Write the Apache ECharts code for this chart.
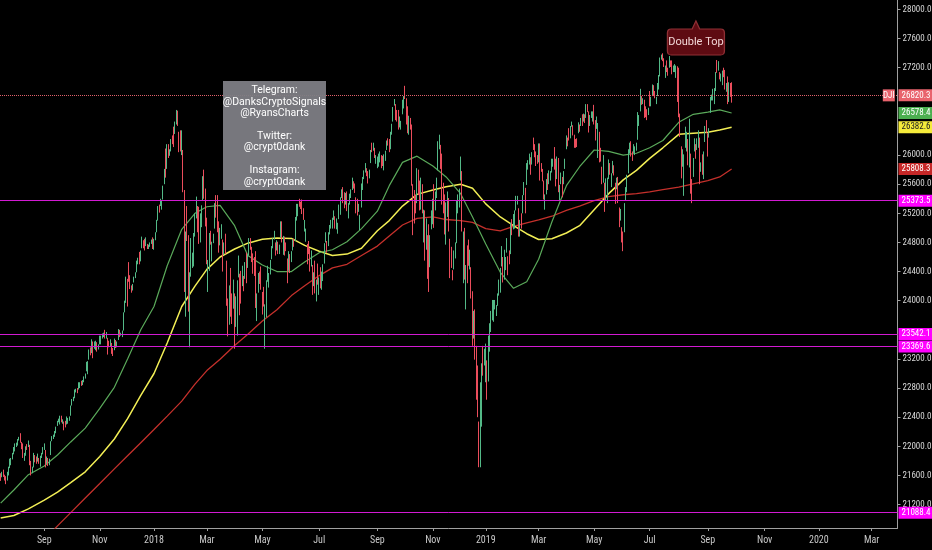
<!DOCTYPE html>
<html><head><meta charset="utf-8">
<script src="https://cdn.jsdelivr.net/npm/echarts/dist/echarts.min.js"></script>
<style>html,body{margin:0;padding:0;background:#000;}#c{width:932px;height:550px;}</style>
</head><body><div id="c"></div>
<script>
// ---- data ----
const startDate = '2017-07-18';
const categoryCount = 679;
const holidays = ['2017-09-04','2017-11-23','2017-12-25','2018-01-01','2018-01-15','2018-02-19','2018-03-30','2018-05-28','2018-07-04','2018-09-03','2018-11-22','2018-12-05','2018-12-25','2019-01-01','2019-01-21','2019-02-18','2019-04-19','2019-05-27','2019-07-04','2019-09-02','2019-11-28','2019-12-25','2020-01-01','2020-01-20','2020-02-17'];
const monthNames = ['Jan','Feb','Mar','Apr','May','Jun','Jul','Aug','Sep','Oct','Nov','Dec'];
// [open, close, low, high]
const candles2017 = [
[21610,21574,21525,21630],[21590,21641,21575,21650],[21650,21611,21580,21680],[21590,21580,21530,21610],[21580,21513,21480,21590],[21540,21613,21530,21650],[21620,21711,21600,21720],[21720,21797,21700,21830],[21790,21830,21740,21840],[21840,21891,21820,21910],
[21900,21963,21890,21990],[21970,22016,21930,22040],[22020,22026,21990,22050],[22030,22092,22010,22100],[22090,22118,22080,22130],[22110,22085,22050,22180],[22060,22048,21960,22060],[22040,21844,21840,22040],[21850,21858,21800,21910],[21880,21993,21870,22000],[22000,21999,21950,22030],[22010,22024,21990,22080],[22010,21750,21740,22020],[21760,21674,21600,21800],[21680,21703,21630,21720],[21720,21899,21710,21910],[21860,21812,21780,21880],[21820,21783,21760,21860],[21800,21814,21790,21900],[21820,21808,21760,21840],[21760,21865,21720,21870],[21860,21892,21840,21910],[21900,21948,21890,21990],
[21960,21988,21950,22040],[21940,21753,21710,21950],[21780,21807,21760,21860],[21820,21784,21730,21840],[21780,21798,21740,21830],[21880,22057,21880,22070],[22080,22119,22070,22140],[22110,22158,22100,22160],[22140,22203,22130,22210],[22200,22268,22180,22270],[22290,22331,22280,22350],[22340,22370,22330,22380],[22370,22412,22300,22420],[22400,22359,22330,22420],[22340,22349,22310,22370],[22330,22296,22220,22340],[22310,22284,22260,22350],[22320,22341,22300,22410],[22330,22381,22310,22390],[22380,22405,22350,22410],
[22430,22557,22420,22560],[22570,22641,22560,22650],[22640,22661,22620,22680],[22680,22775,22660,22780],[22760,22774,22740,22790],[22770,22761,22730,22800],[22790,22831,22780,22880],[22830,22873,22800,22880],[22880,22841,22830,22900],[22870,22871,22840,22910],[22900,22957,22880,22960],[22950,22997,22930,23000],[23030,23158,23030,23160],[23110,23163,22990,23170],[23200,23329,23190,23330],[23340,23274,23250,23360],[23290,23441,23280,23470],[23430,23329,23210,23440],[23350,23400,23340,23440],[23420,23434,23320,23450],[23420,23349,23300,23430],[23370,23377,23330,23400],
[23420,23436,23400,23520],[23430,23517,23400,23520],[23520,23539,23480,23550],[23540,23549,23500,23560],[23560,23557,23480,23600],[23540,23563,23480,23570],[23480,23462,23260,23490],[23440,23422,23360,23450],[23390,23440,23370,23470],[23420,23409,23270,23420],[23340,23271,23240,23350],[23330,23458,23320,23480],[23450,23358,23350,23460],[23370,23430,23360,23440],[23470,23591,23460,23610],[23590,23526,23500,23600],[23540,23558,23520,23560],[23560,23580,23500,23590],[23600,23836,23590,23840],[23850,23940,23840,24000],[23980,24272,23970,24330],
[24250,24231,23920,24300],[24420,24290,24260,24530],[24300,24180,24160,24350],[24170,24140,24110,24210],[24150,24212,24140,24230],[24260,24329,24250,24330],[24330,24387,24310,24390],[24400,24504,24390,24550],[24530,24585,24500,24590],[24600,24509,24500,24670],[24560,24652,24540,24690],[24730,24792,24720,24880],[24820,24754,24720,24830],[24800,24726,24690,24850],[24760,24782,24750,24870],[24770,24754,24710,24780],[24730,24746,24710,24770],[24760,24774,24740,24800],[24800,24838,24780,24840],[24850,24719,24710,24870]
];
const candles2018 = [
[24810,24824,24700,24850],[24850,24922,24830,24940],[24960,25075,24940,25110],[25110,25295,25100,25300],[25310,25283,25210,25320],[25310,25386,25300,25400],[25320,25369,25250,25380],[25400,25574,25390,25580],[25610,25803,25600,25810],[25900,25792,25690,26090],[25840,26116,25810,26150],[26140,26017,25960,26150],[26040,26071,25990,26080],[26060,26214,26050,26220],[26240,26210,26150,26270],[26260,26252,26110,26390],[26290,26392,26290,26460],[26450,26617,26420,26620],[26590,26439,26400,26610],[26310,26076,26040,26320],[26200,26149,26050,26340],
[26080,26186,26000,26340],[26060,25521,25490,26070],[25340,24346,24120,25520],[24090,24913,23780,24950],[24900,24893,24820,25300],[24900,23860,23850,24900],[23990,24191,23360,24390],[24340,24601,24330,24860],[24540,24640,24450,24660],[24540,24893,24470,24930],[24990,25200,24880,25200],[25170,25219,25130,25430],[25180,24965,24940,25300],[25000,24798,24780,25290],[24830,24963,24800,25200],[25030,25310,25010,25310],[25370,25709,25370,25710],[25710,25410,25400,25800],[25480,25029,25020,25540],
[25030,24608,24500,25140],[24480,24538,24120,24560],[24460,24874,24410,24930],[24920,24884,24770,24960],[24620,24801,24540,24810],[24820,24895,24790,24920],[25000,25336,24990,25340],[25380,25179,25140,25450],[25250,25008,24940,25450],[25060,24758,24660,25090],[24800,24873,24760,25000],[24880,24946,24850,25050],[24840,24610,24400,24840],[24640,24727,24630,24800],[24700,24683,24640,24920],[24550,23958,23930,24550],[23920,23533,23510,24030],[23770,24202,23670,24210],[24280,23857,23780,24450],[23860,23849,23680,24100],[23900,24103,23890,24290],
[24080,23644,23340,24100],[23710,24033,23640,24060],[23720,24264,23520,24280],[24330,24505,24320,24620],[24330,23933,23800,24370],[24000,23979,23960,24410],[24200,24408,24200,24480],[24270,24190,24130,24340],[24320,24483,24300,24530],[24600,24360,24240,24660],[24460,24573,24450,24630],[24680,24786,24620,24860],[24800,24748,24700,24860],[24700,24665,24530,24740],[24620,24463,24370,24650],[24490,24448,24340,24600],[24510,24024,23900,24680],[24010,24083,23720,24100],[24130,24322,24110,24380],[24350,24311,24230,24400],[24370,24163,24150,24470],
[24120,24099,23810,24120],[24100,23925,23920,24190],[23840,23930,23340,23950],[23860,24263,23770,24280],[24320,24357,24260,24480],[24330,24361,24180,24380],[24400,24543,24360,24560],[24580,24740,24570,24750],[24750,24831,24720,24860],[24880,24899,24840,24960],[24800,24706,24620,24800],[24700,24769,24690,24830],[24740,24714,24640,24810],[24700,24715,24640,24770],[24880,25013,24870,25090],[25050,24834,24800,25090],[24770,24887,24630,24890],[24860,24811,24620,24880],[24790,24753,24680,24800],[24570,24362,24240,24580],[24420,24668,24410,24680],[24600,24416,24380,24640],
[24540,24635,24530,24680],[24700,24814,24690,24840],[24830,24800,24740,24850],[24850,25146,24820,25150],[25160,25241,25100,25330],[25200,25317,25160,25330],[25330,25322,25290,25400],[25320,25320,25260,25360],[25330,25201,25190,25390],[25230,25175,25110,25270],[25080,25090,24950,25110],[24940,24987,24810,24990],[24760,24700,24500,24780],[24740,24658,24640,24820],[24660,24461,24400,24720],[24510,24581,24470,24690],[24480,24253,24080,24490],[24280,24284,24200,24390],[24320,24117,24100,24550],[24080,24216,23990,24290],[24290,24271,24220,24510],
[24160,24307,24080,24320],[24350,24175,24170,24460],[24230,24357,24150,24400],[24340,24456,24270,24500],[24520,24776,24510,24790],[24810,24920,24800,24940],[24780,24700,24660,24820],[24760,24925,24750,24940],[24930,25019,24910,25040],[25030,25064,24990,25110],[25010,25120,24990,25140],[25120,25199,25110,25240],[25160,25065,24990,25160],[25040,25058,24980,25130],[25030,25044,24920,25070],[25130,25241,25120,25320],[25240,25415,25180,25420],[25430,25527,25410,25530],[25550,25451,25340,25560],[25440,25307,25270,25490],[25360,25415,25320,25480],
[25400,25333,25230,25500],[25280,25327,25130,25340],[25340,25463,25320,25470],[25440,25502,25410,25530],[25530,25629,25520,25690],[25620,25583,25540,25640],[25570,25509,25480,25610],[25410,25313,25200,25420],[25320,25188,25170,25400],[25230,25300,25220,25330],[25160,25162,24970,25180],[25290,25559,25280,25610],[25540,25669,25520,25700],[25680,25759,25670,25790],[25780,25822,25760,25890],[25800,25733,25710,25820],[25730,25657,25610,25780],[25690,25790,25680,25800],[25900,26050,25890,26070],[26090,26065,26040,26170],[26080,26124,26060,26170],[26080,25986,25960,26100],[25940,25965,25880,26000],
[25920,25952,25820,25980],[25940,25975,25840,26020],[25990,25996,25900,26050],[25930,25917,25820,26000],[25960,25857,25850,25990],[25820,25971,25790,26010],[25960,26000,25920,26060],[26080,26145,26070,26200],[26170,26154,26130,26230],[26170,26062,26040,26220],[26080,26246,26080,26320],[26290,26406,26280,26430],[26470,26657,26460,26660],[26700,26743,26680,26770],[26690,26562,26480,26700],[26570,26492,26460,26620],[26510,26385,26350,26620],[26420,26440,26380,26530],[26420,26458,26350,26470],
[26570,26651,26560,26760],[26650,26774,26640,26810],[26830,26828,26770,26951],[26760,26627,26420,26780],[26630,26447,26300,26670],[26420,26487,26280,26540],[26460,26431,26350,26510],[26410,25599,25580,26420],[25550,25053,24900,25600],[25400,25340,25060,25520],[25310,25250,25200,25450],[25350,25798,25340,25820],[25750,25706,25450,25800],[25640,25380,25240,25650],[25420,25444,25250,25690],[25450,25317,25200,25600],[25070,25191,24800,25250],[25170,24583,24550,25240],[24770,24985,24700,25130],[24820,24689,24300,24900],[24820,24443,24120,25050],[24480,24875,24460,24900],[25030,25116,24980,25240],
[25100,25380,25050,25400],[25520,25271,25000,25600],[25260,25462,25240,25500],[25440,25635,25410,25690],[25810,26181,25790,26190],[26140,26191,26080,26280],[26130,25989,25810,26140],[25960,25387,25320,26020],[25410,25286,25200,25620],[25390,25081,24910,25460],[25000,25289,24770,25350],[25200,25413,25150,25500],[25390,25018,24950,25410],[24840,24466,24310,24850],[24550,24465,24450,24740],[24390,24286,24280,24420],[24440,24640,24430,24690],[24600,24749,24580,24800],[24810,25366,24790,25370],[25310,25339,25200,25460],[25340,25538,25280,25540],
[25780,25826,25650,25980],[25780,25027,24950,25780],[24750,24947,24240,24950],[24900,24389,24290,25000],[24350,24423,23880,24490],[24560,24370,24240,24760],[24530,24527,24480,24840],[24560,24597,24430,24700],[24460,24101,24030,24460],[24040,23592,23380,24130],[23660,23676,23480,23860],[23680,23324,23190,23880],[23220,22859,22640,23380],[22880,22445,22400,23110],[22320,21792,21713,22340],[21860,22878,21712,22879],[22630,23139,22270,23140],[23210,23062,22970,23380],[23150,23327,23110,23340]
];
const candles2019 = [
[23060,23346,22880,23410],[23180,22686,22640,23180],[22890,23433,22890,23520],[23470,23531,23300,23690],[23680,23787,23570,23860],[23850,23879,23730,24010],[23790,24001,23710,24010],[23940,23996,23880,24010],[23870,23910,23790,23940],[23950,24066,23930,24100],[24090,24207,24070,24290],[24140,24370,24110,24450],[24480,24706,24470,24750],[24590,24404,24250,24600],[24510,24575,24290,24700],[24550,24553,24420,24600],[24700,24737,24660,24860],[24580,24528,24350,24610],[24590,24580,24500,24690],[24650,25014,24640,25070],[25010,24999,24900,25120],
[25020,25064,24980,25190],[25060,25239,24990,25240],[25250,25411,25240,25440],[25370,25390,25320,25440],[25270,25169,24880,25270],[25050,25106,24880,25110],[25140,25053,24990,25200],[25210,25425,25200,25450],[25470,25543,25450,25630],[25490,25439,25200,25550],[25600,25883,25590,25890],[25840,25891,25800,25930],[25890,25954,25870,26020],[25940,25850,25730,25970],[25880,26031,25870,26040],[26130,26091,26070,26240],[26080,26057,25970,26150],[26000,25985,25850,26050],[25970,25916,25880,26000],
[26020,26026,25900,26160],[26120,25819,25650,26160],[25830,25806,25770,25890],[25800,25673,25640,25810],[25640,25473,25390,25650],[25320,25450,25250,25460],[25480,25650,25460,25670],[25680,25555,25520,25750],[25610,25703,25600,25790],[25690,25710,25650,25780],[25770,25849,25760,25950],[25870,25914,25840,25950],[25950,25887,25800,26110],[25910,25746,25570,25950],[25710,25963,25670,25980],[25920,25502,25490,25960],[25460,25516,25380,25590],[25620,25657,25600,25760],[25650,25626,25420,25700],[25650,25717,25600,25780],[25820,25929,25810,25950],
[26080,26258,26080,26270],[26230,26179,26120,26240],[26250,26218,26200,26370],[26240,26385,26230,26400],[26420,26425,26390,26460],[26400,26341,26270,26410],[26270,26150,26100,26280],[26170,26157,26100,26220],[26200,26143,26110,26230],[26310,26412,26300,26450],[26400,26385,26320,26420],[26420,26453,26400,26510],[26510,26450,26400,26560],[26480,26559,26460,26570],[26550,26511,26440,26560],[26520,26656,26510,26700],[26660,26597,26590,26700],[26590,26462,26310,26600],[26460,26543,26400,26550],[26550,26554,26510,26600],[26530,26593,26460,26600],
[26640,26430,26420,26690],[26420,26308,26200,26480],[26370,26505,26360,26530],[26050,26439,25960,26440],[26300,25965,25900,26320],[25970,25968,25910,26100],[25830,25828,25600,25840],[25800,25942,25620,26000],[25600,25324,25220,25620],[25380,25532,25370,25680],[25450,25648,25340,25690],[25680,25862,25670,25940],[25780,25764,25730,25890],[25670,25680,25560,25750],[25760,25877,25750,25920],[25850,25776,25720,25860],[25610,25490,25330,25620],[25560,25586,25530,25690],[25600,25348,25340,25700],[25250,25126,25010,25280],[25160,25170,25100,25260],[24980,24815,24800,25010],
[24830,24820,24680,24950],[24950,25333,24940,25340],[25420,25540,25370,25560],[25540,25720,25490,25730],[25770,25984,25750,26080],[26040,26062,26020,26170],[26130,26049,25980,26190],[26010,26005,25920,26050],[26030,26107,26030,26150],[26070,26090,26000,26120],[26110,26112,26060,26170],[26220,26466,26210,26590],[26470,26504,26400,26550],[26630,26753,26600,26910],[26740,26720,26690,26810],[26720,26727,26700,26780],[26730,26548,26510,26760],[26590,26537,26520,26670],[26580,26527,26480,26630],[26550,26600,26550,26650],
[26850,26718,26670,26880],[26730,26787,26670,26800],[26820,26966,26810,26970],[26940,26922,26810,26960],[26860,26806,26780,26880],[26760,26784,26700,26800],[26860,26860,26810,26990],[26910,27088,26900,27100],[27100,27332,27080,27340],[27340,27359,27310,27380],[27340,27336,27290,27398],[27320,27220,27210,27330],[27150,27223,27060,27230],[27270,27154,27140,27300],[27190,27172,27090,27200],[27210,27349,27200,27360],[27300,27270,27210,27300],[27260,27141,27110,27300],[27190,27192,27140,27230],[27180,27221,27140,27250],[27170,27198,27060,27230],[27200,26864,26730,27220],
[26880,26583,26520,27200],[26520,26485,26250,26570],[26120,25718,25680,26120],[25920,26030,25840,26080],[25850,26008,25440,26010],[26110,26378,26100,26390],[26250,26287,26050,26320],[26220,25897,25860,26220],[25890,26280,25830,26500],[26020,25480,25470,26020],[25580,25579,25340,25670],[25710,25886,25700,25960],[26050,26136,26050,26230],[26100,25962,25950,26150],[26080,26202,26070,26230],[26240,26252,26100,26340],[26190,25629,25600,26240],[25800,25898,25770,25900],[25980,25778,25730,26010],[25740,26036,25670,26050],[26180,26362,26180,26400],[26430,26403,26300,26480],
[26300,26118,25980,26300],[26250,26356,26240,26370],[26580,26728,26580,26800],[26770,26797,26750,26830],[26800,26835,26750,26910],[26810,26909,26700,26920],[26920,27137,26880,27140],[27190,27182,27130,27306],[27220,27220,27160,27290],[27130,27076,27040,27140],[27060,27111,27010,27120],[27080,27147,26960,27160],[27170,27094,27070,27200],[27120,26935,26900,27170],[26900,26950,26870,26990],[27010,26808,26700,27080],[26810,26971,26730,27000],[26990,26891,26800,26990],[26920,26820.3,26720,27000]
];
// moving averages: [date, value]
const ma50 = [['2017-07-18',21220],['2017-08-01',21400],['2017-08-16',21610],['2017-09-01',21730],['2017-09-18',21880],['2017-10-02',22060],['2017-10-17',22250],['2017-11-01',22520],['2017-11-16',22810],['2017-12-01',23200],['2017-12-15',23600],['2018-01-02',23920],['2018-01-17',24480],['2018-02-01',24980],['2018-02-15',25200],['2018-03-01',25290],['2018-03-15',25310],['2018-04-02',25030],['2018-04-16',24620],['2018-05-01',24490],['2018-05-16',24400],['2018-06-01',24400],['2018-06-15',24530],['2018-07-02',24660],['2018-07-17',24700],['2018-08-01',24810],['2018-08-16',24990],['2018-09-04',25230],['2018-09-17',25580],['2018-10-01',25900],['2018-10-16',25985],['2018-11-01',25850],['2018-11-15',25700],['2018-12-03',25470],['2018-12-17',25150],['2019-01-02',24780],['2019-01-17',24390],['2019-02-01',24170],['2019-02-15',24260],['2019-03-01',24570],['2019-03-15',25080],['2019-04-01',25580],['2019-04-15',25840],['2019-05-01',26070],['2019-05-16',26050],['2019-06-03',26000],['2019-06-17',26025],['2019-07-01',26100],['2019-07-16',26200],['2019-08-01',26450],['2019-08-16',26560],['2019-09-03',26590],['2019-09-16',26620],['2019-09-27',26578.4]];
const ma100 = [['2017-07-18',21015],['2017-08-01',21050],['2017-08-16',21140],['2017-09-01',21260],['2017-09-18',21370],['2017-10-02',21500],['2017-10-17',21650],['2017-11-01',21860],['2017-11-16',22100],['2017-12-01',22380],['2017-12-15',22700],['2018-01-02',23000],['2018-01-17',23420],['2018-02-01',23920],['2018-02-15',24200],['2018-03-01',24430],['2018-03-15',24600],['2018-04-02',24710],['2018-04-16',24790],['2018-05-01',24845],['2018-05-16',24860],['2018-06-01',24855],['2018-06-15',24760],['2018-07-02',24680],['2018-07-17',24620],['2018-08-01',24640],['2018-08-16',24720],['2018-09-04',24960],['2018-09-17',25100],['2018-10-01',25300],['2018-10-16',25460],['2018-11-01',25520],['2018-11-15',25565],['2018-12-03',25600],['2018-12-17',25545],['2019-01-02',25330],['2019-01-17',25150],['2019-02-01',25030],['2019-02-15',24920],['2019-03-01',24840],['2019-03-15',24850],['2019-04-01',24930],['2019-04-15',25030],['2019-05-01',25250],['2019-05-16',25470],['2019-06-03',25660],['2019-06-17',25790],['2019-07-01',25955],['2019-07-16',26100],['2019-08-01',26285],['2019-08-16',26300],['2019-09-03',26315],['2019-09-16',26345],['2019-09-27',26382.6]];
const ma200 = [['2017-09-01',20715],['2017-09-18',20907],['2017-10-02',21089],['2017-10-17',21290],['2017-11-01',21489],['2017-11-16',21690],['2017-12-01',21870],['2017-12-15',22050],['2018-01-02',22230],['2018-01-17',22415],['2018-02-01',22620],['2018-02-15',22855],['2018-03-01',23040],['2018-03-15',23195],['2018-04-02',23385],['2018-04-16',23540],['2018-05-01',23720],['2018-05-16',23875],['2018-06-01',24070],['2018-06-15',24205],['2018-07-02',24345],['2018-07-17',24450],['2018-08-01',24500],['2018-08-16',24620],['2018-09-04',24750],['2018-09-17',24890],['2018-10-01',25040],['2018-10-16',25130],['2018-11-01',25150],['2018-11-15',25115],['2018-12-03',25100],['2018-12-17',25075],['2019-01-02',24990],['2019-01-17',24960],['2019-02-01',25020],['2019-02-15',25070],['2019-03-01',25110],['2019-03-15',25160],['2019-04-01',25240],['2019-04-15',25300],['2019-05-01',25375],['2019-05-16',25430],['2019-06-03',25455],['2019-06-17',25470],['2019-07-01',25495],['2019-07-16',25525],['2019-08-01',25560],['2019-08-16',25605],['2019-09-03',25650],['2019-09-16',25700],['2019-09-27',25808.3]];
const yTicks = [21200,21600,22000,22400,22800,23200,24000,24400,24800,25200,25600,26000,27200,27600,28000];
const levels = [25373.5, 23542.1, 23369.6, 21088.4];
const symbolName = 'DJI';
const noteLabel = 'Double Top';
const noteAnchor = ['2019-08-20', 27608];
const infoLines = ['Telegram:','@DanksCryptoSignals','@RyansCharts','','Twitter:','@crypt0dank','','Instagram:','@crypt0dank'];

// ---- build ----
const axisFont = '"Liberation Sans Narrow", "Roboto Condensed", "DejaVu Sans Condensed", Roboto';
const days = [];
let d = new Date(startDate + 'T00:00:00Z');
while (days.length < categoryCount) {
  const s = d.toISOString().slice(0, 10);
  const wd = d.getUTCDay();
  if (wd !== 0 && wd !== 6 && holidays.indexOf(s) < 0) days.push(s);
  d = new Date(d.getTime() + 86400000);
}
const candles = candles2017.concat(candles2018, candles2019);
const lastDate = days[candles.length - 1];
const lastClose = candles[candles.length - 1][1];
function isLabelDay(i) {
  if (i <= 0) return false;
  const m = +days[i].slice(5, 7), pm = +days[i - 1].slice(5, 7);
  return m !== pm && (m - 1) % 2 === 0;
}
const badge = (bg, fg) => ({
  show: true, position: 'end', distance: 1, formatter: p => Number(p.value).toFixed(1),
  backgroundColor: bg, color: fg, fontSize: 9, lineHeight: 10, fontFamily: axisFont, padding: [1, 2, 1, 3]
});
function maSeries(data, color, width, badgeBg, badgeFg) {
  return {
    type: 'line', data: data, symbol: 'none', silent: true, z: 3, clip: true,
    lineStyle: { color: color, width: width },
    markLine: {
      silent: true, symbol: 'none', animation: false,
      lineStyle: { color: 'rgba(0,0,0,0)', width: 0 },
      label: badge(badgeBg, badgeFg),
      data: [{ yAxis: data[data.length - 1][1] }]
    }
  };
}

const chart = echarts.init(document.getElementById('c'));
chart.setOption({
  backgroundColor: '#000',
  animation: false,
  textStyle: { fontFamily: 'Roboto' },
  grid: { left: 0, right: 34.5, top: 0, bottom: 22, containLabel: false, outerBoundsMode: 'none' },
  xAxis: {
    type: 'category', data: days, boundaryGap: true,
    axisLine: { lineStyle: { color: '#a0a0a0', width: 1 } },
    axisTick: { show: true, interval: isLabelDay, alignWithLabel: true, length: 3, lineStyle: { color: '#a0a0a0' } },
    axisLabel: {
      interval: isLabelDay, color: '#c8c8c8', fontSize: 10, fontFamily: axisFont, margin: 7,
      formatter: v => { const m = +v.slice(5, 7) - 1; return m === 0 ? v.slice(0, 4) : monthNames[m]; }
    },
    splitLine: { show: false }
  },
  yAxis: {
    type: 'value', position: 'right', min: 20878, max: 28130, scale: true,
    axisLine: { show: true, lineStyle: { color: '#a0a0a0', width: 1 } },
    axisTick: { show: true, length: 3, customValues: yTicks, lineStyle: { color: '#a0a0a0' } },
    axisLabel: { customValues: yTicks, color: '#d8d8d8', fontSize: 9, fontFamily: axisFont, margin: 5, formatter: v => v.toFixed(1) },
    splitLine: { show: false }
  },
  series: [
    maSeries(ma200, '#c4302b', 1.3, '#c62828', '#ffffff'),
    maSeries(ma100, '#f2ee55', 1.5, '#f5eb3b', '#222222'),
    maSeries(ma50, '#5aa95a', 1.2, '#4caf50', '#ffffff'),
    {
      type: 'candlestick', data: candles, barWidth: 1, z: 4, silent: true,
      itemStyle: { color: '#53b987', color0: '#eb4d5c', borderColor: '#53b987', borderColor0: '#eb4d5c', borderWidth: 1 },
      markLine: {
        silent: true, symbol: 'none', animation: false,
        data: [
          { yAxis: lastClose, lineStyle: { type: 'dotted', color: '#e0606a', width: 1 }, label: badge('#e9636d', '#ffffff') }
        ].concat(levels.map(v => ({ yAxis: v, lineStyle: { type: 'solid', color: '#d21ad2', width: 1 }, label: badge('#ff00ff', '#ffffff') })))
      },
      markPoint: {
        silent: true, animation: false,
        data: [
          { coord: [lastDate, lastClose], x: 888.8, symbol: 'rect', symbolSize: [12, 12],
            itemStyle: { color: '#e9636d' },
            label: { show: true, position: 'inside', formatter: symbolName, color: '#fff', fontSize: 9, fontFamily: axisFont } },
          { coord: noteAnchor, symbol: 'path://M4,8 L26,8 L30,0 L34,8 L56,8 Q60,8 60,12 L60,30 Q60,34 56,34 L4,34 Q0,34 0,30 L0,12 Q0,8 4,8 Z',
            symbolSize: [57, 34], symbolKeepAspect: false,
            itemStyle: { color: '#5e0b12', borderColor: '#8f3035', borderWidth: 1 },
            label: { show: true, position: 'inside', formatter: noteLabel, color: '#f3d8d8', fontSize: 11, offset: [0, 4] } }
        ]
      }
    }
  ],
  graphic: [
    { type: 'rect', z: 100, shape: { x: 223, y: 81, width: 103, height: 109 }, style: { fill: 'rgba(125,125,132,0.95)' } },
    { type: 'text', z: 101, x: 274.5, y: 85, style: { text: infoLines.join('\n'), fill: '#ffffff', fontSize: 10.5, fontFamily: 'Roboto', align: 'center', verticalAlign: 'top', lineHeight: 11.4 } }
  ]
});
</script>
</body></html>
